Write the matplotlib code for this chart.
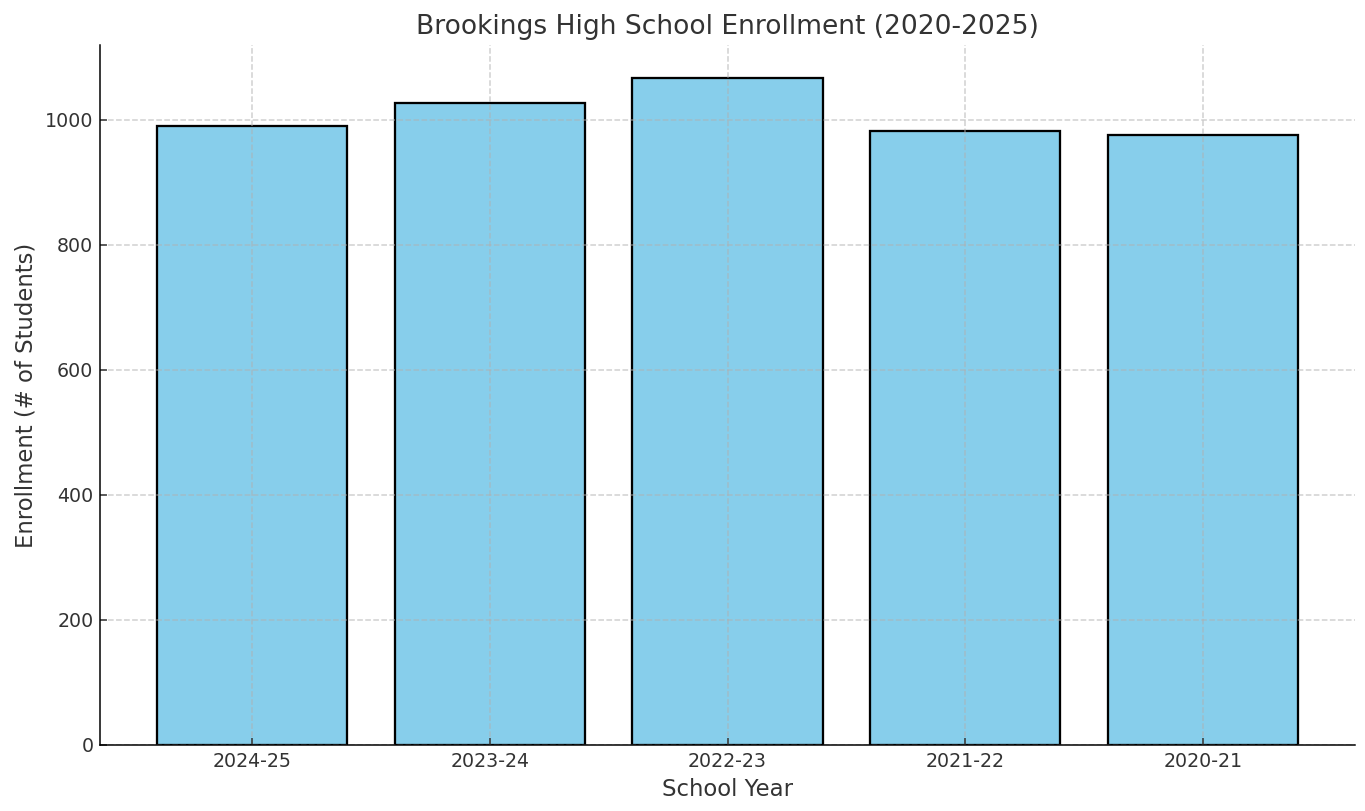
import matplotlib
matplotlib.use('Agg')
import matplotlib.pyplot as plt

years = ['2024-25', '2023-24', '2022-23', '2021-22', '2020-21']
enrollment = [989, 1026, 1066, 981, 975]

plt.rcParams['text.color'] = '#333333'
plt.rcParams['axes.labelcolor'] = '#333333'
plt.rcParams['xtick.color'] = '#333333'
plt.rcParams['ytick.color'] = '#333333'
plt.rcParams['xtick.direction'] = 'in'
plt.rcParams['ytick.direction'] = 'in'

fig, ax = plt.subplots(figsize=(10, 5.9414), dpi=136.5)
ax.bar(years, enrollment, color='skyblue', edgecolor='black', linewidth=1.2)
ax.set_title('Brookings High School Enrollment (2020-2025)', fontsize=14)
ax.set_xlabel('School Year', fontsize=12)
ax.set_ylabel('Enrollment (# of Students)', fontsize=12)
ax.grid(True, linestyle='--', alpha=0.6)
ax.spines['top'].set_visible(False)
ax.spines['right'].set_visible(False)
fig.subplots_adjust(left=0.0733, right=0.9927, bottom=0.0814, top=0.9445)
plt.savefig('out.png', dpi=136.5)
plt.close()
